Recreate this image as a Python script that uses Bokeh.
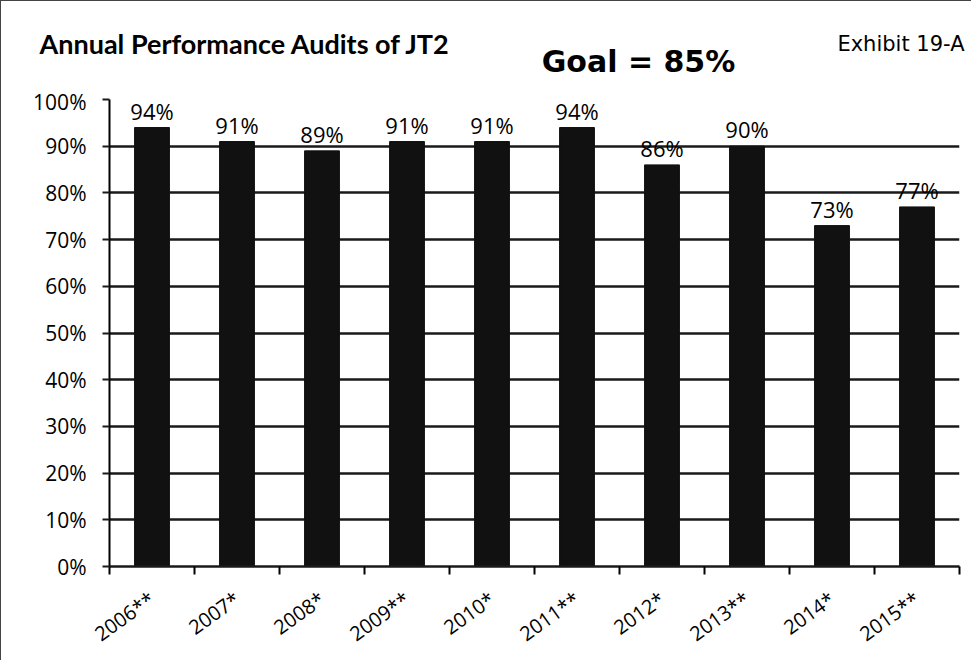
from bokeh.plotting import figure
from bokeh.layouts import column
from bokeh.models import (ColumnDataSource, FixedTicker, LinearAxis,
                          NumeralTickFormatter, Range1d)
from bokeh.core.properties import value
from bokeh.embed import file_html
from bokeh.resources import INLINE

years = ["2006**", "2007*", "2008*", "2009**", "2010*", "2011**", "2012*", "2013**", "2014*", "2015**"]
scores = [94, 91, 89, 91, 91, 94, 86, 90, 73, 77]  # percent
y_ticks = [0, 10, 20, 30, 40, 50, 60, 70, 80, 90, 100]
title_text = "Annual Performance Audits of JT2"
goal_text = "Goal = 85%"
exhibit_text = "Exhibit 19-A"

n = len(years)
centers = [i + 0.5 for i in range(n)]
bounds = list(range(n + 1))

src = ColumnDataSource(dict(
    x=centers,
    top=[v / 100 for v in scores],
    label=[f"{v}%" for v in scores],
))

W = 970
TOP_H = 86
MAIN_H = 573

# ---- header strip (titles) ----
h = figure(width=W, height=TOP_H, output_backend="svg", toolbar_location=None,
           x_range=Range1d(0, W), y_range=Range1d(0, TOP_H),
           x_axis_type=None, y_axis_type=None,
           min_border_left=0, min_border_right=0, min_border_top=0, min_border_bottom=0)
try:
    h.frame_align = False
except Exception:
    pass
h.outline_line_color = None
h.grid.grid_line_color = None
h.background_fill_color = "white"
h.border_fill_color = "white"
h.text(x=[38], y=[44], text=[title_text], text_font=value("Lato"), text_font_style="bold",
       text_font_size="27px", text_color="black", text_align="left", text_baseline="alphabetic")
h.text(x=[637], y=[26], text=[goal_text], text_font=value("DejaVu Sans"), text_font_style="bold",
       text_font_size="30px", text_color="black", text_align="center", text_baseline="alphabetic")
h.text(x=[963], y=[44], text=[exhibit_text], text_font=value("DejaVu Sans"),
       text_font_size="21px", text_color="black", text_align="right", text_baseline="alphabetic")

# ---- main chart ----
p = figure(width=W, height=MAIN_H, output_backend="svg", toolbar_location=None,
           x_range=Range1d(0, n), y_range=Range1d(0, 1),
           min_border_left=108, min_border_right=12, min_border_top=12, min_border_bottom=89)
p.outline_line_color = None
p.background_fill_color = "white"
p.border_fill_color = "white"

p.vbar(x="x", top="top", bottom=0, width=0.41, source=src, color="#111111")
p.text(x="x", y="top", text="label", source=src, text_align="center",
       text_baseline="bottom", y_offset=-2, text_font=value("Open Sans"),
       text_font_size="22px", text_color="black")

# y axis
ya = p.yaxis[0]
ya.ticker = FixedTicker(ticks=[t / 100 for t in y_ticks])
ya.formatter = NumeralTickFormatter(format="0%")
ya.axis_line_width = 2
ya.axis_line_color = "black"
ya.major_tick_line_width = 2
ya.major_tick_line_color = "#1a1a1a"
ya.major_tick_out = 7
ya.major_tick_in = 0
ya.minor_tick_line_color = None
ya.major_label_text_font = "Open Sans"
ya.major_label_text_font_size = "21px"
ya.major_label_text_color = "black"
ya.major_label_standoff = 16

p.ygrid.grid_line_color = "#1a1a1a"
p.ygrid.grid_line_width = 2.5
p.xgrid.grid_line_color = None

# x axis with tick marks at category boundaries
xa = p.xaxis[0]
xa.ticker = FixedTicker(ticks=bounds)
xa.axis_line_width = 2.5
xa.axis_line_color = "#1a1a1a"
xa.major_tick_line_width = 2
xa.major_tick_line_color = "black"
xa.major_tick_out = 8
xa.major_tick_in = 0
xa.minor_tick_line_color = None
xa.major_label_text_color = None
xa.major_label_text_font_size = "1px"
xa.major_label_standoff = 0

# category labels axis
la = LinearAxis(ticker=FixedTicker(ticks=centers),
                major_label_overrides={c: y for c, y in zip(centers, years)})
la.axis_line_color = None
la.major_tick_line_color = None
la.minor_tick_line_color = None
la.major_label_orientation = 0.62
la.major_label_text_font = "Open Sans"
la.major_label_text_font_size = "20px"
la.major_label_text_color = "black"
la.major_label_standoff = 16
p.add_layout(la, "below")

layout = column(h, p, spacing=0)
layout.styles = {"border-left": "1.5px solid #444", "border-top": "1.5px solid #444"}

open("out.html", "w").write(file_html(layout, INLINE))
